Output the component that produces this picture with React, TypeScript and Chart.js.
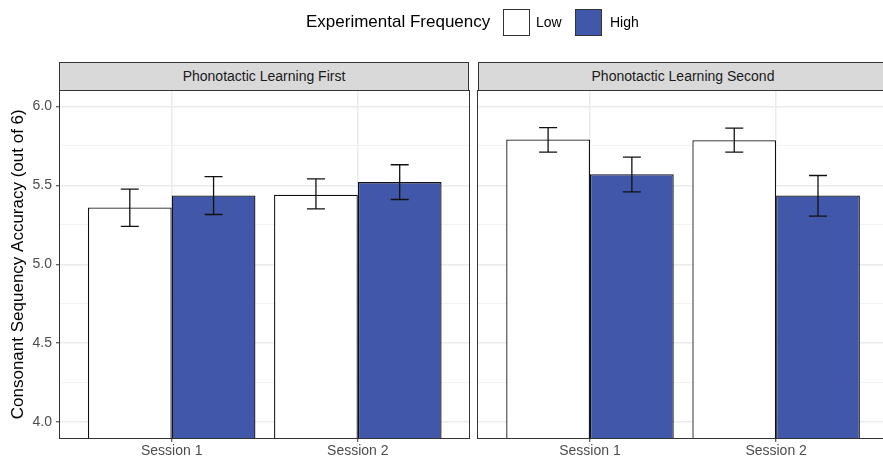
import React, { useEffect, useRef } from 'react';
import { Chart, registerables } from 'chart.js';

Chart.register(...registerables);

// ---- data ----
const sessions = ['Session 1', 'Session 2'];
const panelTitles = ['Phonotactic Learning First', 'Phonotactic Learning Second'];
const legendTitle = 'Experimental Frequency';
const groupLabels = ['Low', 'High'];
const yTitle = 'Consonant Sequency Accuracy (out of 6)';
const yTickValues = [4, 4.25, 4.5, 4.75, 5, 5.25, 5.5, 5.75, 6];

const firstLowMean = [5.36, 5.44];
const firstLowLower = [5.24, 5.35];
const firstLowUpper = [5.475, 5.54];
const firstHighMean = [5.435, 5.52];
const firstHighLower = [5.315, 5.41];
const firstHighUpper = [5.555, 5.63];

const secondLowMean = [5.79, 5.785];
const secondLowLower = [5.71, 5.71];
const secondLowUpper = [5.865, 5.862];
const secondHighMean = [5.57, 5.435];
const secondHighLower = [5.458, 5.305];
const secondHighUpper = [5.678, 5.562];

const panelData = [
  {
    means: [firstLowMean, firstHighMean],
    lowers: [firstLowLower, firstHighLower],
    uppers: [firstLowUpper, firstHighUpper],
  },
  {
    means: [secondLowMean, secondHighMean],
    lowers: [secondLowLower, secondHighLower],
    uppers: [secondLowUpper, secondHighUpper],
  },
];

const FONT = "'Liberation Sans', Arial, Helvetica, sans-serif";
const BLUE = '#4157A9';
const groupColors = ['#FFFFFF', BLUE];

const isMajor = (v: number) => Math.abs(v * 2 - Math.round(v * 2)) < 1e-6;

const errorBarPlugin = {
  id: 'errorBars',
  afterDatasetsDraw(chart: any, _args: any, opts: any) {
    const { ctx } = chart;
    const yScale = chart.scales.y;
    const lowers = opts.lowers as number[][];
    const uppers = opts.uppers as number[][];
    ctx.save();
    ctx.strokeStyle = '#111111';
    ctx.lineWidth = 1.3;
    chart.data.datasets.forEach((_ds: any, d: number) => {
      const meta = chart.getDatasetMeta(d);
      meta.data.forEach((bar: any, i: number) => {
        const x = bar.x;
        const yl = yScale.getPixelForValue(lowers[d][i]);
        const yu = yScale.getPixelForValue(uppers[d][i]);
        const half = 9;
        ctx.beginPath();
        ctx.moveTo(x, yl);
        ctx.lineTo(x, yu);
        ctx.moveTo(x - half, yl);
        ctx.lineTo(x + half, yl);
        ctx.moveTo(x - half, yu);
        ctx.lineTo(x + half, yu);
        ctx.stroke();
      });
    });
    ctx.restore();
  },
};

const panelBorderPlugin = {
  id: 'panelBorder',
  afterDraw(chart: any) {
    const { ctx, chartArea } = chart;
    const x0 = Math.floor(chartArea.left) - 0.5;
    const x1 = Math.floor(chartArea.right) + 0.5;
    const y0 = Math.floor(chartArea.top) + 0.5;
    const y1 = Math.floor(chartArea.bottom) + 0.5;
    ctx.save();
    ctx.strokeStyle = '#333333';
    ctx.lineWidth = 1;
    ctx.strokeRect(x0, y0, x1 - x0, y1 - y0);
    ctx.restore();
  },
};

function Panel({ index, left, width }: { index: number; left: number; width: number }) {
  const ref = useRef<HTMLCanvasElement | null>(null);
  useEffect(() => {
    if (!ref.current) return;
    const showY = index === 0;
    const pd = panelData[index];
    const chart = new Chart(ref.current, {
      type: 'bar',
      data: {
        datasets: groupLabels.map((g, d) => ({
          label: g,
          data: sessions.map((_s, i) => ({ x: i + 1, y: pd.means[d][i] })),
          backgroundColor: groupColors[d],
          borderColor: '#111111',
          borderWidth: 1.3,
          categoryPercentage: 0.9,
          barPercentage: 1,
        })),
      },
      options: {
        responsive: false,
        animation: false,
        devicePixelRatio: 1,
        layout: {
          padding: showY
            ? { left: 4, right: 2.5, top: 90.5, bottom: 0 }
            : { left: 8.3, right: 2.2, top: 90.5, bottom: 0 },
        },
        plugins: {
          legend: { display: false },
          tooltip: { enabled: false },
          title: { display: false },
          errorBars: { lowers: pd.lowers, uppers: pd.uppers },
        } as any,
        scales: {
          x: {
            type: 'linear',
            min: 0.4,
            max: 2.6,
            offset: false,
            grid: {
              offset: false,
              color: '#EBEBEB',
              lineWidth: 1.5,
              tickColor: '#333333',
              tickLength: 4,
              tickWidth: 1,
            },
            border: { display: false },
            ticks: {
              padding: 1,
              color: '#4D4D4D',
              font: { family: FONT, size: 14 },
              callback: (_v: any, i: number) => sessions[i] ?? '',
            },
            afterBuildTicks: (s: any) => {
              s.ticks = sessions.map((_x, i) => ({ value: i + 1 }));
            },
            afterFit: (s: any) => {
              s.height = 20;
            },
          },
          y: {
            type: 'linear',
            min: 3.9,
            max: 6.1,
            beginAtZero: false,
            grid: {
              color: (c: any) => (c.tick && isMajor(c.tick.value) ? '#EBEBEB' : '#F2F2F2'),
              lineWidth: (c: any) => (c.tick && isMajor(c.tick.value) ? 1.5 : 1),
              tickColor: (c: any) =>
                showY && c.tick && isMajor(c.tick.value) ? '#333333' : 'rgba(0,0,0,0)',
              tickLength: 4,
              tickWidth: 1,
              drawTicks: showY,
            },
            border: { display: false },
            ticks: {
              display: showY,
              padding: 4,
              color: '#4D4D4D',
              font: { family: FONT, size: 14 },
              callback: (v: any) => (isMajor(Number(v)) ? Number(v).toFixed(1) : ''),
            },
            title: {
              display: showY,
              text: yTitle,
              color: '#000000',
              font: { family: FONT, size: 17 },
              padding: { top: 4, bottom: 4 },
            },
            afterBuildTicks: (s: any) => {
              s.ticks = yTickValues.map((v) => ({ value: v }));
            },
            afterFit: (s: any) => {
              s.width = showY ? 56 : 0;
            },
          },
        },
      } as any,
      plugins: [errorBarPlugin, panelBorderPlugin],
    });
    return () => chart.destroy();
  }, [index]);
  return (
    <canvas
      ref={ref}
      width={width}
      height={458}
      style={{ position: 'absolute', left, top: 0, width, height: 458, display: 'block' }}
    />
  );
}

const stripStyle = (left: number): React.CSSProperties => ({
  position: 'absolute',
  left,
  top: 62,
  width: 410,
  height: 29,
  boxSizing: 'border-box',
  background: '#D9D9D9',
  border: '1px solid #333333',
  color: '#1A1A1A',
  font: `14px ${FONT}`,
  lineHeight: '27px',
  textAlign: 'center',
  whiteSpace: 'nowrap',
});

export default function App() {
  return (
    <div
      style={{
        position: 'absolute',
        left: 0,
        top: 0,
        width: 883,
        height: 458,
        overflow: 'hidden',
        background: '#FFFFFF',
      }}
    >
      <Panel index={0} left={0} width={472} />
      <Panel index={1} left={470} width={420} />
      <div style={stripStyle(59)}>{panelTitles[0]}</div>
      <div style={stripStyle(478)}>{panelTitles[1]}</div>
      <div
        style={{
          position: 'absolute',
          left: 306,
          top: 12.4,
          font: `17px ${FONT}`,
          lineHeight: '20px',
          color: '#000',
          whiteSpace: 'nowrap',
        }}
      >
        {legendTitle}
      </div>
      <div
        style={{
          position: 'absolute',
          left: 502.5,
          top: 9,
          width: 27,
          height: 27,
          boxSizing: 'border-box',
          border: '1px solid #333',
          background: groupColors[0],
        }}
      />
      <div
        style={{
          position: 'absolute',
          left: 536,
          top: 14.4,
          font: `14px ${FONT}`,
          lineHeight: '16px',
          color: '#000',
          whiteSpace: 'nowrap',
        }}
      >
        {groupLabels[0]}
      </div>
      <div
        style={{
          position: 'absolute',
          left: 575,
          top: 9,
          width: 27,
          height: 27,
          boxSizing: 'border-box',
          border: '1px solid #333',
          background: groupColors[1],
        }}
      />
      <div
        style={{
          position: 'absolute',
          left: 610,
          top: 14.4,
          font: `14px ${FONT}`,
          lineHeight: '16px',
          color: '#000',
          whiteSpace: 'nowrap',
        }}
      >
        {groupLabels[1]}
      </div>
    </div>
  );
}
